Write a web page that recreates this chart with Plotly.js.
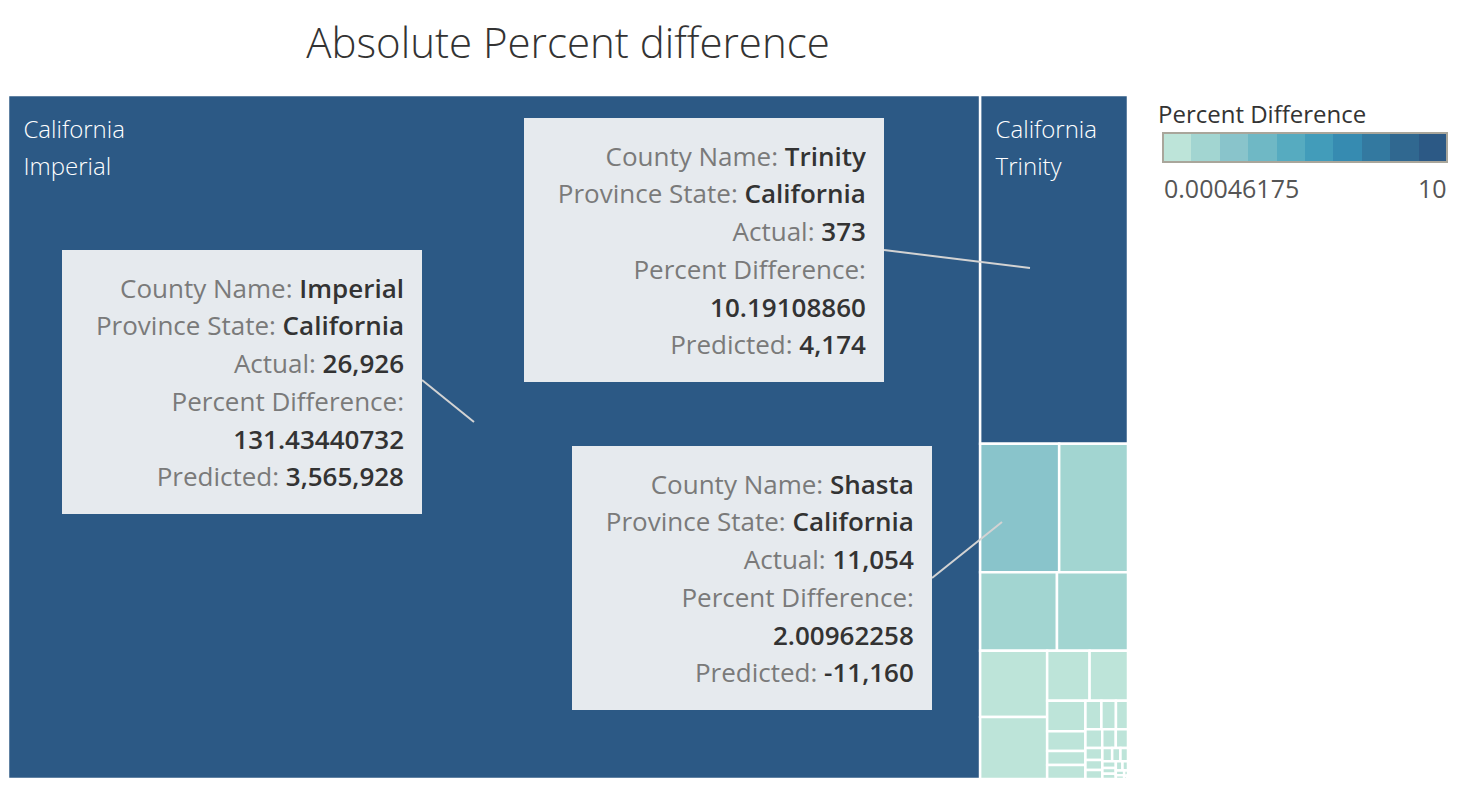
<!DOCTYPE html>
<html>
<head>
<meta charset="utf-8">
<script src="https://cdn.plot.ly/plotly-3.0.1.min.js"></script>
<style>html,body{margin:0;padding:0;background:#fff;}#chart{width:1458px;height:788px;}</style>
</head>
<body>
<div id="chart"></div>
<script>
// ---- data ----
var counties = ["Imperial","Trinity","Shasta","Lassen","Tehama","Modoc","Siskiyou","Plumas","Glenn","Colusa","Sutter","Yuba","Butte","Tuolumne","Mariposa","Madera","Merced","Kings","Tulare","Kern","Inyo","Mono","Alpine","Amador","Calaveras","Sierra","Nevada","Placer","El Dorado","Lake","Mendocino","Humboldt","Del Norte","Sonoma","Marin","Napa"];
var states = counties.map(function(){return "California";});
var percentDiff = [131.43440732,10.1910886,2.00962258,1.75,1.19,1.10,0.88,0.82,0.42,0.38,0.23,0.15,0.107,0.105,0.09,0.082,0.068,0.062,0.05,0.045,0.04,0.034,0.03,0.026,0.022,0.02,0.018,0.015,0.014,0.012,0.01,0.008,0.006,0.004,0.002,0.00046175];
var callouts = [
  {county:"Imperial", state:"California", actual:"26,926", pd:"131.43440732", predicted:"3,565,928"},
  {county:"Trinity", state:"California", actual:"373", pd:"10.19108860", predicted:"4,174"},
  {county:"Shasta", state:"California", actual:"11,054", pd:"2.00962258", predicted:"-11,160"}
];
var legendMax = 10;
var stepColors = ["#bde4d9","#a2d5d1","#89c4cb","#6fb8c5","#56abc0","#429cba","#368bb1","#3379a0","#306890","#2c5985"];

// ---- helpers ----
var W = 1458, H = 788;
function px(x){return x/W;}
function py(y){return 1 - y/H;}
var cmin = Math.min.apply(null, percentDiff);
var scale = [];
stepColors.forEach(function(c,i){
  scale.push([i/stepColors.length, c]);
  scale.push([(i+1)/stepColors.length, c]);
});

function boxText(d){
  var L = function(s){return '<span style="font-size:26px;color:#7a7a7a">'+s+'</span>';};
  var V = function(s){return '<span style="font-size:26px;color:#333333;font-weight:600">'+s+'</span>';};
  return [
    L('County Name: ')+V(d.county),
    L('Province State: ')+V(d.state),
    L('Actual: ')+V(d.actual),
    L('Percent Difference:'),
    V(d.pd),
    L('Predicted: ')+V(d.predicted)
  ].join('<br>');
}

var boxPos = [
  {x:62, y:250},
  {x:524, y:118},
  {x:572, y:446}
];
var pad = 18, boxW = 360, boxH = 264;
var annotations = callouts.map(function(d,i){
  return {
    xref:'paper', yref:'paper', x:px(boxPos[i].x), y:py(boxPos[i].y),
    xanchor:'left', yanchor:'top', showarrow:false,
    text: boxText(d), align:'right', valign:'middle',
    width: boxW-2*pad, height: boxH-2*pad, borderpad: pad,
    bgcolor:'#e6eaee', borderwidth:0,
    font:{family:'Open Sans, sans-serif', size:29, color:'#333'}
  };
});
annotations.push({
  xref:'paper', yref:'paper', x:px(1156), y:py(113), xanchor:'left', yanchor:'middle', showarrow:false,
  text:'Percent Difference', font:{family:'Open Sans, sans-serif', size:24, color:'#333', weight:500}
});
annotations.push({
  xref:'paper', yref:'paper', x:px(1162), y:py(188), xanchor:'left', yanchor:'middle', showarrow:false,
  text:String(cmin), font:{family:'Open Sans, sans-serif', size:25, color:'#555'}
});
annotations.push({
  xref:'paper', yref:'paper', x:px(1449), y:py(188), xanchor:'right', yanchor:'middle', showarrow:false,
  text:String(legendMax), font:{family:'Open Sans, sans-serif', size:25, color:'#555'}
});

var leaders = [
  [422,380,474,422],
  [884,250,1030,268],
  [932,578,1002,522]
];
var shapes = leaders.map(function(l){
  return {type:'line', xref:'paper', yref:'paper', x0:px(l[0]), y0:py(l[1]), x1:px(l[2]), y1:py(l[3]),
    line:{color:'#d3d3d3', width:2}};
});

var NB = '\u00a0\u00a0';
var trace = {
  type:'treemap',
  labels: counties,
  parents: counties.map(function(){return "";}),
  values: percentDiff,
  text: states,
  texttemplate: '<span style="font-size:4px">\u00a0</span><br><span style="font-size:24px">'+NB+'%{text}</span><br><span style="font-size:24px">'+NB+'%{label}</span>',
  textposition: 'top left',
  textfont:{family:'Open Sans, sans-serif', size:28, color:'#ffffff', weight:300},
  hoverinfo:'label+value',
  sort: true,
  tiling:{packing:'squarify', squarifyratio:1.618, pad:0},
  pathbar:{visible:false},
  root:{color:'rgba(0,0,0,0)'},
  marker:{
    colors: percentDiff,
    colorscale: scale,
    cmin: cmin, cmax: legendMax,
    showscale: true,
    pad:{t:0,l:0,r:0,b:0},
    line:{color:'#ffffff', width:2.5},
    colorbar:{
      orientation:'h', x:px(1305), xanchor:'center', y:py(133), yanchor:'top',
      len:284/W, lenmode:'fraction', thickness:29, thicknessmode:'pixels',
      outlinewidth:2, outlinecolor:'#a9a69b', showticklabels:false, ticks:'',
      xpad:0, ypad:0, borderwidth:0
    }
  },
  domain:{x:[px(8), px(1128)], y:[py(779), py(95)]}
};

var layout = {
  width: W, height: H,
  margin:{l:0,r:0,t:0,b:0},
  paper_bgcolor:'#ffffff',
  title:{text:'Absolute Percent difference', x:px(568), xanchor:'center', y:py(43), yanchor:'middle',
    font:{family:'Open Sans, sans-serif', size:42, color:'#333', weight:300}},
  uniformtext:{minsize:28, mode:'hide'},
  annotations: annotations,
  shapes: shapes,
  showlegend:false
};

Plotly.newPlot('chart', [trace], layout, {displayModeBar:false, staticPlot:true});
</script>
</body>
</html>
